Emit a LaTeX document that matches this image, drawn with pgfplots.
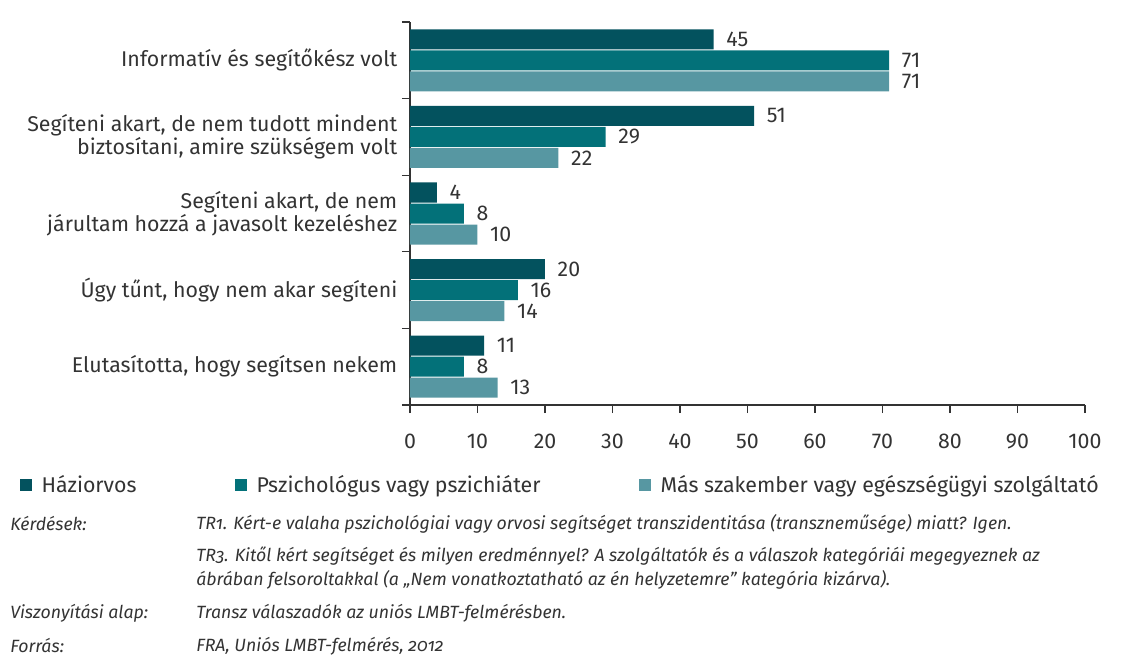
\documentclass[border=0pt]{standalone}
\usepackage{fontspec}
\setmainfont{Fira Sans}
\newfontfamily\notefont[Numbers=OldStyle]{Fira Sans}
\usepackage{pgfplots}
\pgfplotsset{compat=1.18}
\definecolor{gpdark}{HTML}{03525E}
\definecolor{psymid}{HTML}{037179}
\definecolor{othlight}{HTML}{5797A2}
\definecolor{axisgray}{HTML}{333333}

\begin{document}
\begin{tikzpicture}
\begin{axis}[
  scale only axis,
  width=506.25pt, height=287.25pt,
  xbar, bar width=15pt,
  xmin=0, xmax=100,
  ymin=-0.5, ymax=4.5, y dir=reverse,
  axis x line*=bottom, axis y line*=left,
  axis line style={axisgray, line width=0.9pt, -},
  xtick={0,10,...,100},
  ytick={0,...,4},
  yticklabels={
    Informatív és segítőkész volt,
    {Segíteni akart, de nem tudott mindent\\biztosítani, amire szükségem volt},
    {Segíteni akart, de nem\\járultam hozzá a javasolt kezeléshez},
    {Úgy tűnt, hogy nem akar segíteni},
    {Elutasította, hogy segítsen nekem}},
  minor ytick={-0.5,0.5,...,4.5},
  tick align=outside,
  major tick length=6pt, minor tick length=6pt,
  ytick style={draw=none},
  minor y tick style={draw=axisgray, line width=0.9pt},
  xtick style={draw=axisgray, line width=0.9pt},
  y tick label style={align=right, font=\fontsize{16}{17.25}\selectfont, text=axisgray},
  x tick label style={font=\fontsize{16}{17}\selectfont, text=axisgray, yshift=-12pt},
  /pgf/number format/assume math mode=true,
  nodes near coords,
  nodes near coords style={font=\fontsize{16}{17}\selectfont, text=axisgray, anchor=west, xshift=6pt},
  legend columns=3,
  legend style={at={(rel axis cs:-0.5778,-0.2089)}, anchor=west, draw=none, inner sep=0pt,
    font=\fontsize{16}{17}\selectfont, text=axisgray,
    /tikz/every odd column/.append style={column sep=5pt},
    /tikz/every even column/.append style={column sep=72pt}},
  legend image code/.code={\fill[#1] (0pt,-4.5pt) rectangle (9pt,4.5pt);},
]
\addplot[fill=gpdark, draw=none, bar shift=15.75pt] coordinates {(45,0) (51,1) (4,2) (20,3) (11,4)};
\addlegendentry{Háziorvos}
\addplot[fill=psymid, draw=none, bar shift=0pt] coordinates {(71,0) (29,1) (8,2) (16,3) (8,4)};
\addlegendentry{Pszichológus vagy pszichiáter}
\addplot[fill=othlight, draw=none, bar shift=-15.75pt] coordinates {(71,0) (22,1) (10,2) (14,3) (13,4)};
\addlegendentry{Más szakember vagy egészségügyi szolgáltató}
\end{axis}
\begin{scope}[x=0.75pt, y=-0.75pt, shift={(-410,-405)}]
  \begin{scope}[every node/.style={anchor=west, inner sep=0pt, text=axisgray, font=\notefont\itshape\fontsize{13.3}{18}\selectfont}]
    \node at (10,524) {Kérdések:};
    \node at (196,524) {TR1. Kért-e valaha pszichológiai vagy orvosi segítséget transzidentitása (transzneműsége) miatt? Igen.};
    \node at (196,556) {TR3. Kitől kért segítséget és milyen eredménnyel? A szolgáltatók és a válaszok kategóriái megegyeznek az};
    \node at (196,580) {ábrában felsoroltakkal (a „Nem vonatkoztatható az én helyzetemre” kategória kizárva).};
    \node at (10,613) {Viszonyítási alap:};
    \node at (196,613) {Transz válaszadók az uniós LMBT-felmérésben.};
    \node at (10,646) {Forrás:};
    \node at (196,646) {FRA, Uniós LMBT-felmérés, 2012};
  \end{scope}
  \pgfresetboundingbox
  \path[use as bounding box] (0,0) rectangle (1129,659);
\end{scope}
\end{tikzpicture}
\end{document}
